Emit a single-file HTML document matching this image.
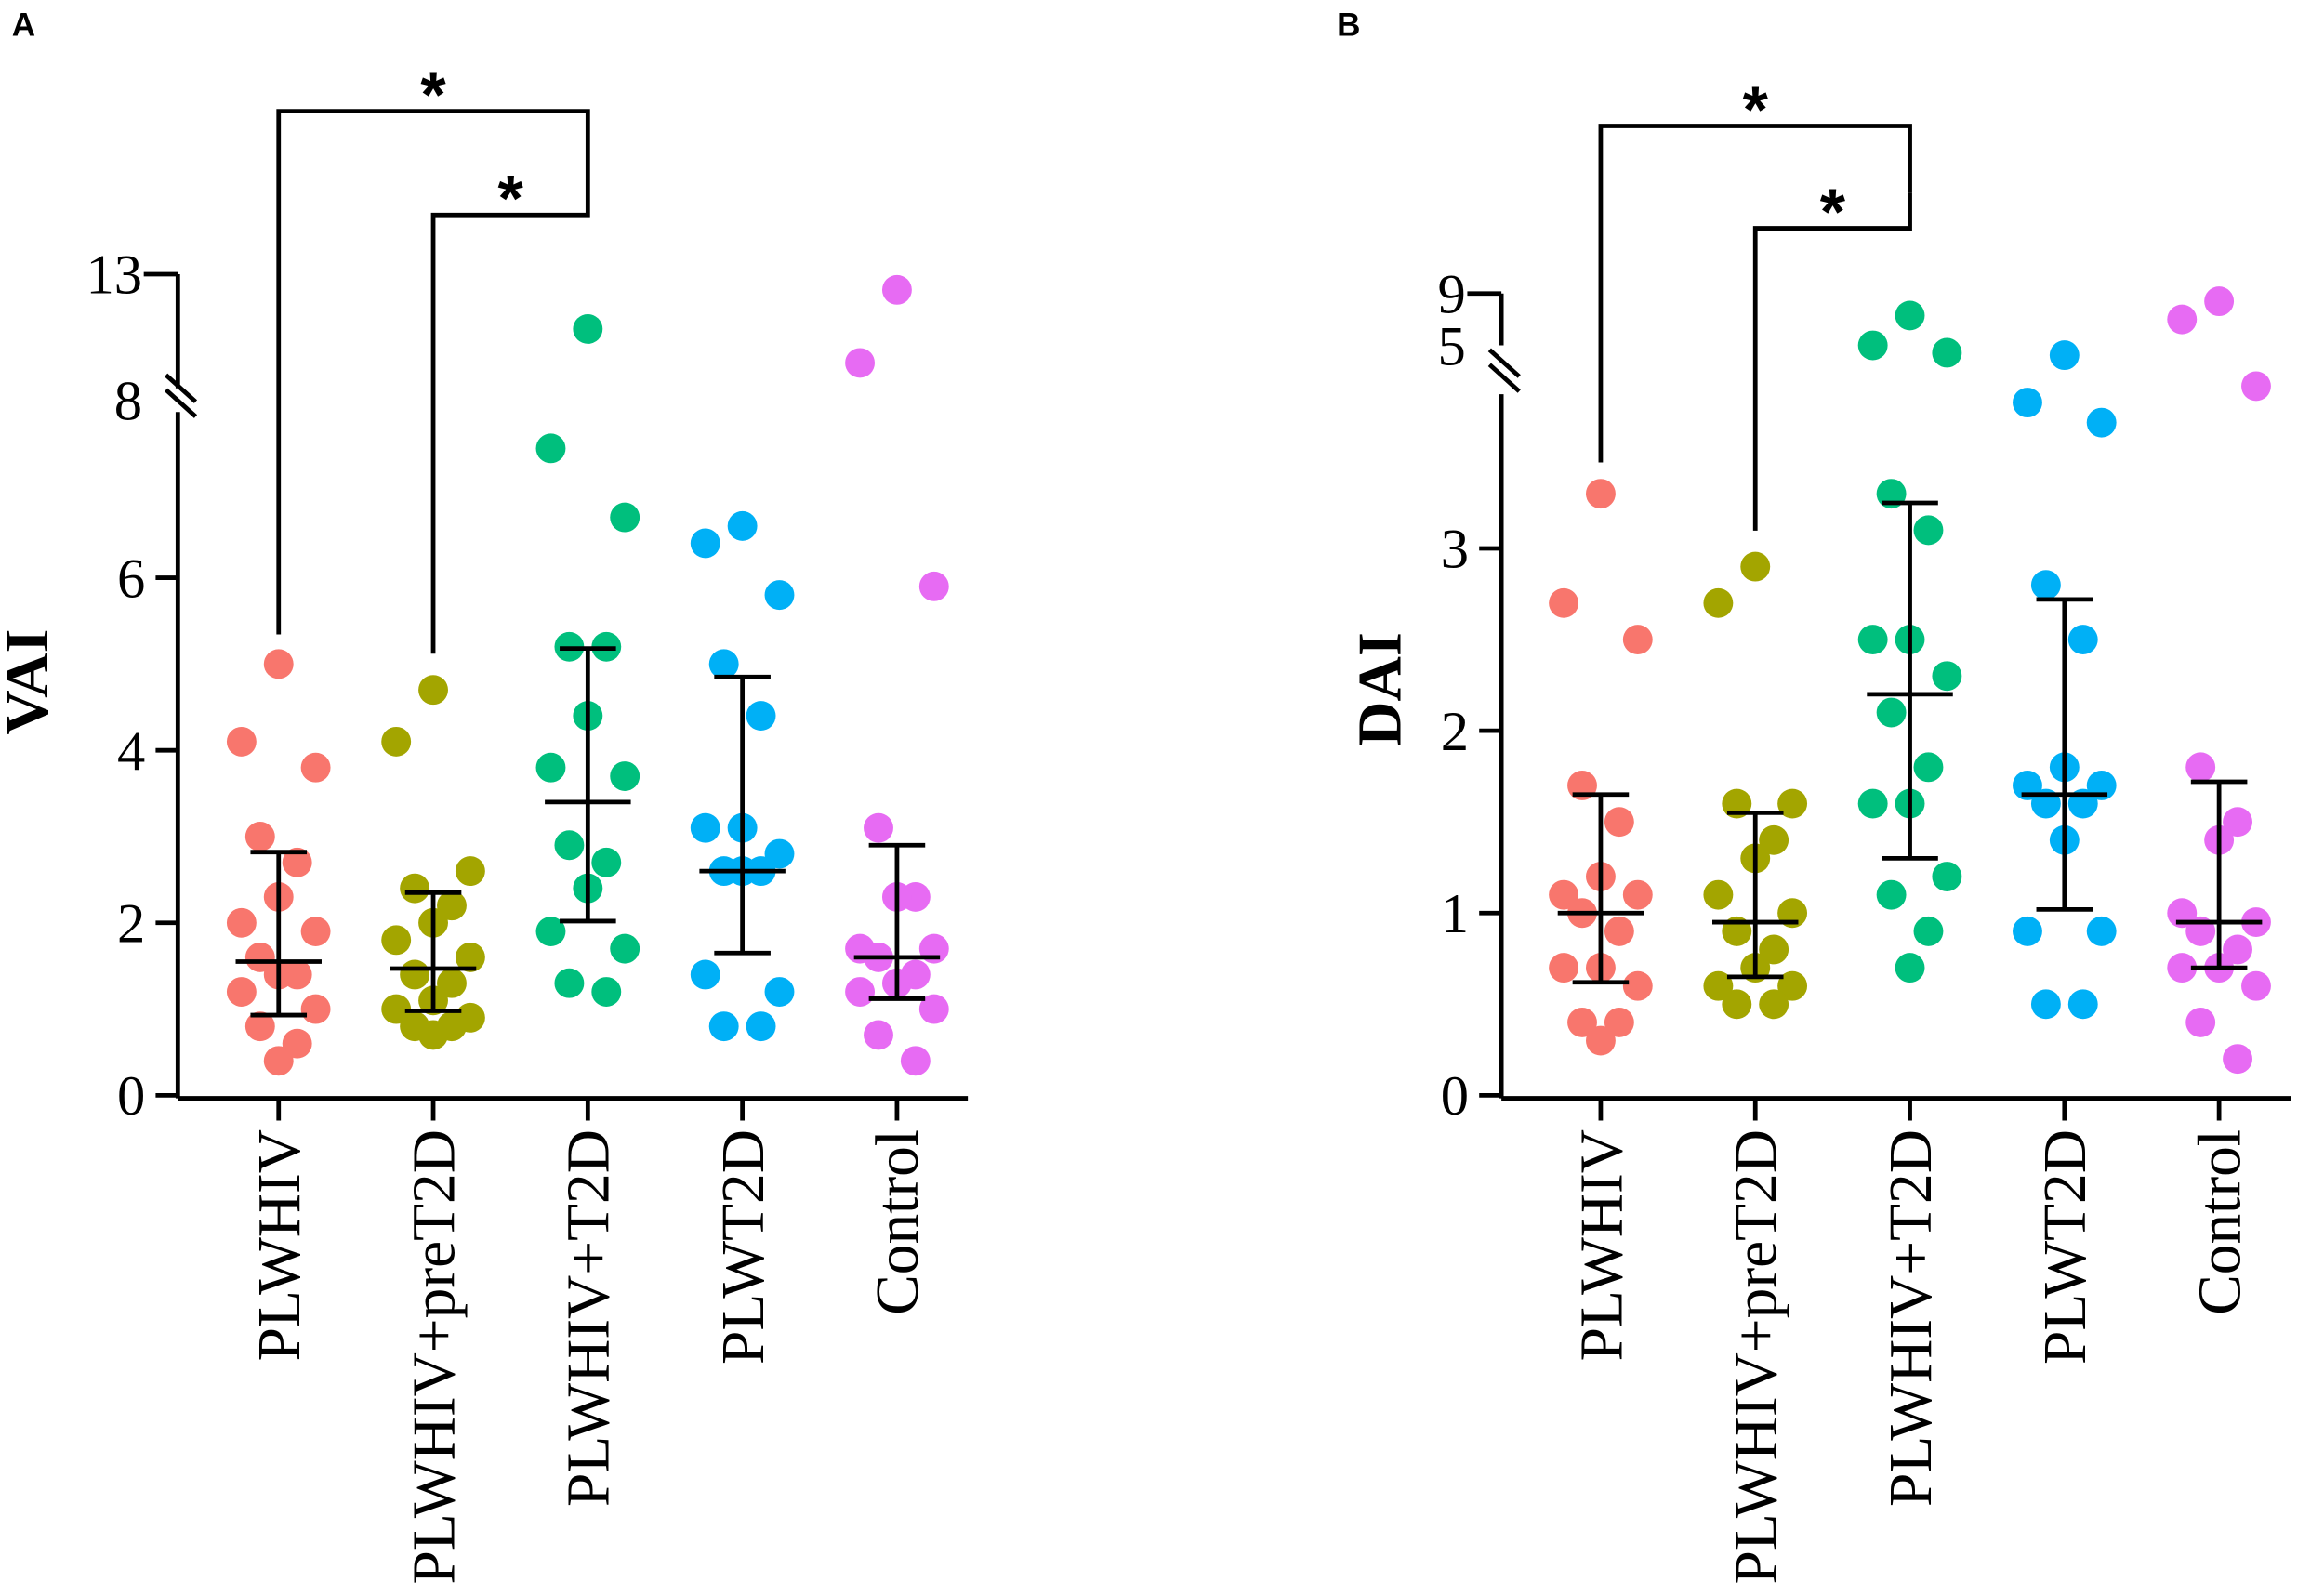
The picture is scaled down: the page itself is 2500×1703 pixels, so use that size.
<!DOCTYPE html>
<html><head><meta charset="utf-8"><style>
html,body{margin:0;padding:0;background:#fff;}
svg{display:block;}
text{font-family:"Liberation Serif",serif;fill:#000;}
</style></head><body>
<svg id="chart" width="2500" height="1703" viewBox="0 0 1568 1068" preserveAspectRatio="none">
<g id="root"></g>
</svg>
<script>
const categories = ["PLWHIV","PLWHIV+preT2D","PLWHIV+T2D","PLWT2D","Control"];
const colors = ["#F8766D","#A3A500","#00BF7D","#00B0F6","#E76BF3"];
const vaiValues = [
 [5.0,4.1,3.8,3.0,2.7,2.3,2.0,1.9,1.6,1.4,1.4,1.2,1.0,0.8,0.6,0.4],
 [4.7,4.1,2.6,2.4,2.2,2.0,1.8,1.6,1.4,1.3,1.1,1.0,0.9,0.8,0.8,0.7],
 [10.9,7.5,6.7,5.2,5.2,4.4,3.8,3.7,2.9,2.7,2.4,1.9,1.7,1.3,1.2],
 [6.6,6.4,5.8,5.0,4.4,3.1,3.1,2.8,2.6,2.6,2.6,1.4,1.2,0.8,0.8],
 [12.4,9.6,5.9,3.1,2.3,2.3,1.7,1.7,1.6,1.4,1.3,1.2,1.0,0.7,0.4]
];
const vaiMedian = [1.55,1.47,3.4,2.6,1.6];
const vaiLow = [0.93,0.98,2.02,1.65,1.12];
const vaiHigh = [2.82,2.35,5.18,4.85,2.9];
const daiValues = [
 [3.3,2.7,2.5,1.7,1.5,1.2,1.1,1.1,1.0,0.9,0.7,0.7,0.6,0.4,0.4,0.3],
 [2.9,2.7,1.6,1.6,1.4,1.3,1.1,1.0,0.9,0.8,0.7,0.6,0.6,0.5,0.5],
 [7.3,5.0,4.43,3.3,3.1,2.5,2.5,2.3,2.1,1.8,1.6,1.6,1.2,1.1,0.9,0.7],
 [4.06,3.8,3.69,2.8,2.5,1.8,1.7,1.7,1.6,1.6,1.4,0.9,0.9,0.5,0.5],
 [8.4,7.0,3.89,1.8,1.5,1.4,1.0,0.95,0.9,0.8,0.7,0.7,0.6,0.4,0.2]
];
const daiMedian = [1.0,0.95,2.2,1.65,0.95];
const daiLow = [0.62,0.65,1.3,1.02,0.7];
const daiHigh = [1.65,1.55,3.25,2.72,1.72];
const vaiTicks = [0,2,4,6];
const daiTicks = [0,1,2,3];

const NS="http://www.w3.org/2000/svg";
const root=document.getElementById('root');
function el(tag,attrs,parent,txt){const e=document.createElementNS(NS,tag);for(const k in attrs)e.setAttribute(k,attrs[k]);if(txt!==undefined)e.textContent=txt;(parent||root).appendChild(e);return e;}
function line(x1,y1,x2,y2,p,name){const l=el('line',{x1,y1,x2,y2,stroke:'#000','stroke-width':3},p);


return l;}

function panel(cfg){
 const g=el('g',{});
 
 
 const X=i=>cfg.x0+i*cfg.dx;
 const Y=cfg.Y;
 line(cfg.ax,741,cfg.ax+cfg.xlen,741,g,'x-axis');
 line(cfg.ax,741,cfg.ax,cfg.lowTop,g,'y-axis-lower');
 line(cfg.ax,cfg.upTop,cfg.ax,cfg.upBot,g,'y-axis-upper');
 line(cfg.ax-23,cfg.upTop,cfg.ax,cfg.upTop,g,'y-tick-top');
 line(cfg.ax-8,cfg.brk-9,cfg.ax+12,cfg.brk+9,g,'axis-break');
 line(cfg.ax-8,cfg.brk+1,cfg.ax+12,cfg.brk+19,g,'axis-break');
 cfg.ticks.forEach(t=>{const y=Y(t);line(cfg.ax-15,y,cfg.ax,y,g,'y-tick');
  const tx=el('text',{x:cfg.ax-22,y:y+13,'text-anchor':'end','font-size':38},g,String(t));
  
  });
 cfg.upLabels.forEach(([t,y])=>{const tx=el('text',{x:cfg.ax-24,y:y+13,'text-anchor':'end','font-size':38},g,t);
  
  });
 const yt=el('text',{x:0,y:0,'font-size':42,'font-weight':'bold','text-anchor':'middle',transform:`translate(${cfg.ytx},${cfg.yty}) rotate(-90)`},g,cfg.ytitle);
 
 
 const pl=el('text',{x:cfg.plx,y:24,'font-size':22,'font-weight':'bold',style:'font-family:"Liberation Sans",sans-serif'},g,cfg.letter);
 
 
 categories.forEach((c,i)=>{
  const cx=X(i);
  line(cx,741,cx,756,g,'x-tick');
  const t=el('text',{x:0,y:0,'font-size':41,'text-anchor':'end',transform:`translate(${cx+14},762) rotate(-90)`},g,c);
  
  
  const vals=cfg.values[i];
  const offs=[0,-1,1,-0.5,0.5];
  vals.forEach((v,j)=>{
   const o=offs[j%5]*25;
   const d=el('circle',{cx:cx+o,cy:Y(v),r:10,fill:colors[i]},g);
   
   
  });
  line(cx-29,Y(cfg.med[i]),cx+29,Y(cfg.med[i]),g,'median-line');
  line(cx,Y(cfg.lo[i]),cx,Y(cfg.hi[i]),g,'error-bar');
  line(cx-19,Y(cfg.lo[i]),cx+19,Y(cfg.lo[i]),g,'error-cap');
  line(cx-19,Y(cfg.hi[i]),cx+19,Y(cfg.hi[i]),g,'error-cap');
 });
 const b=cfg.br;
 const p1=el('polyline',{points:`${X(0)},${b[0]} ${X(0)},${b[1]} ${X(2)},${b[1]} ${X(2)},${b[2]}`,fill:'none',stroke:'#000','stroke-width':3},g);
 
 
 const p2=el('polyline',{points:`${X(1)},${b[3]} ${X(1)},${b[4]} ${X(2)},${b[4]} ${X(2)},${b[2]}`,fill:'none',stroke:'#000','stroke-width':3},g);
 
 
 const s1=el('text',{x:X(1),y:b[1]+4,'font-size':44,'font-weight':'bold','text-anchor':'middle',style:'font-family:"Liberation Sans",sans-serif'},g,'*');
 
 
 const s2=el('text',{x:(X(1)+X(2))/2,y:b[4]+4,'font-size':44,'font-weight':'bold','text-anchor':'middle',style:'font-family:"Liberation Sans",sans-serif'},g,'*');
 
 
}

panel({name:'panel-a-vai',letter:'A',plx:8,ax:120,xlen:533,x0:188,dx:104.3,
 Y:v=>v<8?739-58.2*v:273-(v-8)*17.6,lowTop:278,upTop:185,upBot:262,brk:262,
 ticks:vaiTicks,upLabels:[["13",185],["8",270]],ytitle:'VAI',ytx:32,yty:460,
 values:vaiValues,med:vaiMedian,lo:vaiLow,hi:vaiHigh,br:[428,75,122,441,145]});
panel({name:'panel-b-dai',letter:'B',plx:902,ax:1013,xlen:533,x0:1080,dx:104.3,
 Y:v=>v<4.3?739-123*v:233-(v-5)*8.75,lowTop:266,upTop:198,upBot:233,brk:245,
 ticks:daiTicks,upLabels:[["9",198],["5",233]],ytitle:'DAI',ytx:945,yty:465,
 values:daiValues,med:daiMedian,lo:daiLow,hi:daiHigh,br:[312,85,130,358,154]});
</script>
</body></html>
